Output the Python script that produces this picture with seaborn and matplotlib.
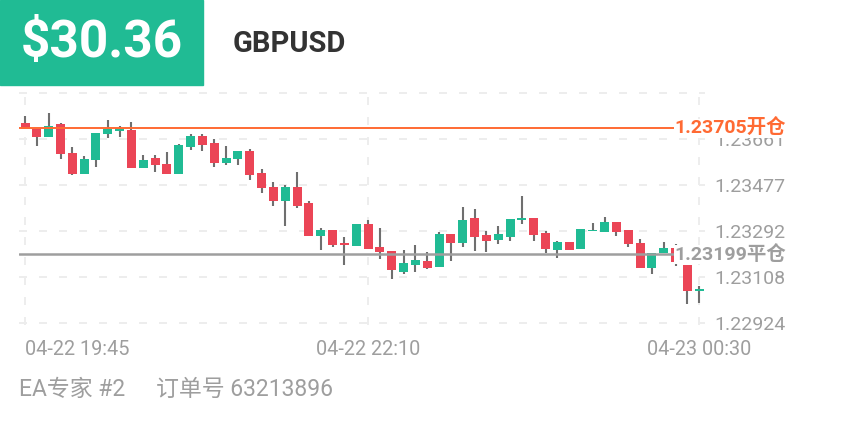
import matplotlib
matplotlib.use('Agg')
import matplotlib.pyplot as plt
import numpy as np
import pandas as pd
import seaborn as sns
from matplotlib.patches import Rectangle

# GBPUSD 5-minute candles, 04-22 19:45 .. 04-23 00:30
opens = [1.23727, 1.23703, 1.23671, 1.23720, 1.23607, 1.23523, 1.23576, 1.23680,
         1.23693, 1.23697, 1.23547, 1.23586, 1.23563, 1.23523, 1.23631, 1.23673,
         1.23644, 1.23565, 1.23580, 1.23612, 1.23525, 1.23469, 1.23413, 1.23469,
         1.23403, 1.23273, 1.23296, 1.23245, 1.23232, 1.23320, 1.23229, 1.23212,
         1.23127, 1.23155, 1.23172, 1.23147, 1.23280, 1.23244, 1.23344, 1.23276,
         1.23256, 1.23269, 1.23337, 1.23344, 1.23285, 1.23216, 1.23248, 1.23221,
         1.23292, 1.23289, 1.23327, 1.23295, 1.23245, 1.23143, 1.23203, 1.23225,
         1.23156, 1.23053]
closes = [1.23700, 1.23668, 1.23712, 1.23601, 1.23521, 1.23583, 1.23685, 1.23703,
          1.23705, 1.23545, 1.23576, 1.23559, 1.23523, 1.23636, 1.23673, 1.23636,
          1.23565, 1.23587, 1.23615, 1.23519, 1.23464, 1.23413, 1.23469, 1.23392,
          1.23273, 1.23298, 1.23236, 1.23236, 1.23320, 1.23222, 1.23207, 1.23135,
          1.23164, 1.23175, 1.23145, 1.23282, 1.23245, 1.23336, 1.23268, 1.23253,
          1.23281, 1.23341, 1.23344, 1.23277, 1.23219, 1.23247, 1.23215, 1.23299,
          1.23297, 1.23327, 1.23287, 1.23240, 1.23144, 1.23205, 1.23225, 1.23167,
          1.23053, 1.23059]
highs = [1.23752, 1.23703, 1.23767, 1.23725, 1.23631, 1.23593, 1.23685, 1.23739,
         1.23713, 1.23729, 1.23599, 1.23596, 1.23609, 1.23643, 1.23680, 1.23683,
         1.23660, 1.23632, 1.23615, 1.23621, 1.23543, 1.23489, 1.23476, 1.23529,
         1.23412, 1.23305, 1.23296, 1.23268, 1.23320, 1.23336, 1.23303, 1.23212,
         1.23216, 1.23235, 1.23209, 1.23287, 1.23280, 1.23387, 1.23380, 1.23293,
         1.23313, 1.23341, 1.23432, 1.23344, 1.23292, 1.23252, 1.23248, 1.23299,
         1.23323, 1.23348, 1.23327, 1.23295, 1.23259, 1.23205, 1.23247, 1.23240,
         1.23156, 1.23072]
lows = [1.23700, 1.23633, 1.23671, 1.23580, 1.23519, 1.23523, 1.23549, 1.23667,
        1.23668, 1.23545, 1.23547, 1.23528, 1.23523, 1.23523, 1.23619, 1.23613,
        1.23549, 1.23556, 1.23556, 1.23495, 1.23443, 1.23393, 1.23312, 1.23385,
        1.23273, 1.23216, 1.23227, 1.23155, 1.23232, 1.23222, 1.23179, 1.23100,
        1.23120, 1.23129, 1.23141, 1.23147, 1.23173, 1.23227, 1.23212, 1.23209,
        1.23239, 1.23252, 1.23319, 1.23252, 1.23205, 1.23185, 1.23215, 1.23221,
        1.23292, 1.23289, 1.23273, 1.23229, 1.23144, 1.23121, 1.23203, 1.23153,
        1.22999, 1.23003]

times = pd.date_range('2024-04-22 19:45', periods=len(opens), freq='5min')
tick_times = ['04-22 19:45', '04-22 22:10', '04-23 00:30']
y_ticks = [1.22924, 1.23108, 1.23292, 1.23477, 1.23661, 1.23846]
y_labels = ['1.22924', '1.23108', '1.23292', '1.23477', '1.23661', '']

open_price = 1.23705
close_price = 1.23199
profit = '$30.36'
symbol = 'GBPUSD'
expert = 'EA专家 #2'
order = '订单号 63213896'

GREEN = '#20bb94'
RED = '#eb4556'
WICK = '#6f6f6f'
ORANGE = '#ff6a33'
GRAY = '#9e9e9e'

sns.set_theme(style='white')
plt.rcParams['font.family'] = ['Roboto', 'Noto Sans CJK SC', 'DejaVu Sans']

df = pd.DataFrame({'o': opens, 'h': highs, 'l': lows, 'c': closes})
df['x'] = np.arange(len(df))
df['bottom'] = df[['o', 'c']].min(axis=1)
df['height'] = (df['c'] - df['o']).abs()
df['up'] = df['c'] >= df['o']

fig = plt.figure(figsize=(8.44, 4.22), dpi=100)
ax = fig.add_axes([19.1 / 844, 97 / 422, 686.1 / 844, 233.6 / 422])

# wicks
ax.vlines(df['x'], df['l'], df['h'], colors=WICK, linewidth=1.5, zorder=2)

# bodies
for up, col in [(True, GREEN), (False, RED)]:
    sub = df[df['up'] == up].sort_values('x')
    sns.barplot(data=sub, x='x', y='height', native_scale=True, color=col,
                width=0.76, errorbar=None, linewidth=0, saturation=1,
                bottom=sub['bottom'].values, zorder=3, ax=ax)

# open / close price lines
ax.axhline(open_price, color=ORANGE, linewidth=1.4, zorder=4)
ax.axhline(close_price, color=GRAY, linewidth=1.8, zorder=4)
lab_x = 54.9
ax.text(lab_x, open_price, f'{open_price:.5f}开仓', color=ORANGE, fontsize=14,
        fontweight='bold', ha='left', va='center', clip_on=False, zorder=10,
        bbox=dict(facecolor='white', edgecolor='none', pad=0))
ax.text(lab_x, close_price, f'{close_price:.5f}平仓', color=GRAY, fontsize=14,
        fontweight='bold', ha='left', va='center', clip_on=False, zorder=10,
        bbox=dict(facecolor='white', edgecolor='none', pad=0))

ax.set_xlim(-0.5, len(df) - 0.5)
ax.set_ylim(1.22916, 1.23852)

labels = times.strftime('%m-%d %H:%M')
ax.set_xticks([list(labels).index(t) for t in tick_times])
ax.set_xticklabels(tick_times)
ax.get_xticklabels()[0].set_ha('left')
ax.set_yticks(y_ticks)
ax.set_yticklabels(y_labels)
ax.yaxis.tick_right()
ax.tick_params(axis='x', length=0, pad=11, labelsize=14.3, labelcolor=GRAY)
ax.tick_params(axis='y', length=0, pad=6.5, labelsize=14, labelcolor=GRAY)
ax.set_xlabel('')
ax.set_ylabel('')
ax.grid(True, color='#ededed', linewidth=1.44, linestyle=(0, (4, 6)))
for s in ax.spines.values():
    s.set_visible(False)

# header
fig.add_artist(Rectangle((0, 1 - 85 / 422), 203 / 844, 85 / 422,
                         transform=fig.transFigure, color=GREEN, zorder=0))
fig.text(21 / 844, 1 - 43 / 422, profit, color='white', fontsize=37,
         fontweight='bold', va='center', ha='left')
fig.text(233 / 844, 1 - 44 / 422, symbol, color='#333333', fontsize=21,
         fontweight='bold', va='center', ha='left')

# footer
fig.text(19 / 844, 1 - 389 / 422, expert, color=GRAY, fontsize=16.5,
         va='center', ha='left')
fig.text(156 / 844, 1 - 389 / 422, order, color=GRAY, fontsize=16.5,
         va='center', ha='left')

fig.savefig('out.png', dpi=100)
